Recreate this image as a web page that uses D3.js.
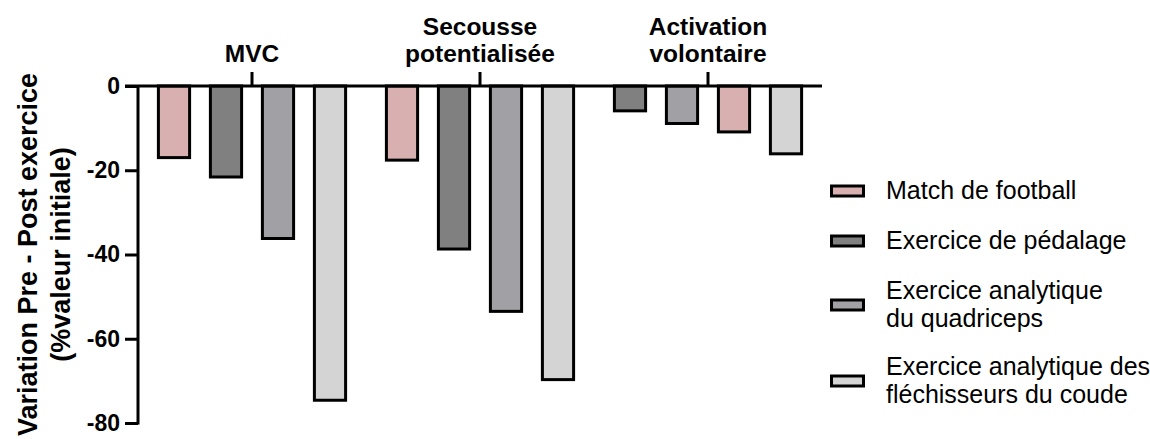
<!DOCTYPE html>
<html>
<head>
<meta charset="utf-8">
<script src="https://cdn.jsdelivr.net/npm/d3@7"></script>
<style>
  body { margin: 0; background: #fff; }
  svg { font-family: Arial, "Liberation Sans", sans-serif; }
</style>
</head>
<body>
<div id="chart"></div>
<script>
// data
let groups = [["MVC"], ["Secousse", "potentialisée"], ["Activation", "volontaire"]];
let series = ["Match de football", "Exercice de pédalage", "Exercice analytique du quadriceps", "Exercice analytique des fléchisseurs du coude"];
let legendLines = [["Match de football"], ["Exercice de pédalage"], ["Exercice analytique", "du quadriceps"], ["Exercice analytique des", "fléchisseurs du coude"]];
let colors = ["#d8b0b0", "#808080", "#a1a0a5", "#d4d4d4"];
let football = [-17.0, -17.6, -10.9];
let pedalage = [-21.6, -38.7, -5.9];
let quadriceps = [-36.2, -53.5, -8.9];
let flechisseurs = [-74.6, -69.7, -16.1];
let yTicks = [0, -20, -40, -60, -80];

let values = [football, pedalage, quadriceps, flechisseurs];

let width = 1150, height = 439;
let svg = d3.select("#chart").append("svg")
    .attr("width", width)
    .attr("height", height);

// scales
let x = d3.scaleBand().domain(d3.range(groups.length)).range([138, 822]).padding(0);
let y = d3.scaleLinear().domain([0, -80]).range([86, 423]);

// bars sorted within each group (largest drop last)
let bars = [];
groups.forEach(function (g, gi) {
    let row = series.map((s, si) => ({group: gi, series: si, value: values[si][gi]}));
    row.sort((a, b) => b.value - a.value);
    row.forEach((d, k) => { d.slot = k; bars.push(d); });
});
let inner = d3.scaleBand().domain(d3.range(4)).range([-104, 104]).paddingInner(0.4).paddingOuter(0.2);

svg.append("g").selectAll("rect")
    .data(bars)
    .join("rect")
    .attr("x", d => x(d.group) + x.bandwidth() / 2 + inner(d.slot))
    .attr("width", inner.bandwidth())
    .attr("y", y(0))
    .attr("height", d => y(d.value) - y(0))
    .attr("fill", d => colors[d.series])
    .attr("stroke", "#000")
    .attr("stroke-width", 3);

// y axis
let yAxis = svg.append("g")
    .attr("transform", "translate(138,0)")
    .call(d3.axisLeft(y).tickValues(yTicks).tickSize(13).tickPadding(5).tickSizeOuter(0)
        .tickFormat(d => String(d)))
    .attr("font-size", 23)
    .attr("font-weight", "bold")
    .attr("font-family", "Arial, 'Liberation Sans', sans-serif");
yAxis.select(".domain").attr("stroke-width", 3).attr("d", "M0," + y(0) + "V" + (y(-80) + 1.5));
yAxis.selectAll(".tick line").attr("stroke-width", 3);
yAxis.selectAll(".tick text").attr("fill", "#000");

// top axis at zero with group ticks
let xAxis = svg.append("g")
    .attr("transform", "translate(0," + y(0) + ")")
    .call(d3.axisTop(x).tickSize(14).tickSizeOuter(0).tickFormat(""));
xAxis.select(".domain").attr("stroke-width", 3).attr("d", "M125,0H822");
xAxis.selectAll(".tick line").attr("stroke-width", 3);

// group labels
groups.forEach(function (lines, gi) {
    let t = svg.append("text")
        .attr("text-anchor", "middle")
        .attr("font-size", 24.5)
        .attr("font-weight", "bold")
        .attr("fill", "#000");
    lines.forEach(function (l, li) {
        t.append("tspan")
            .attr("x", x(gi) + x.bandwidth() / 2)
            .attr("y", 62 - (lines.length - 1 - li) * 27)
            .text(l);
    });
});

// y title
let yTitle = svg.append("text")
    .attr("transform", "translate(0," + y(-40) + ") rotate(-90)")
    .attr("text-anchor", "middle")
    .attr("font-size", 27)
    .attr("font-weight", "bold")
    .attr("fill", "#000");
yTitle.append("tspan").attr("x", 0).attr("y", 37).text("Variation Pre - Post exercice");
yTitle.append("tspan").attr("x", 0).attr("y", 70).text("(%valeur initiale)");

// legend
let legendY = [191, 241, 305, 381];
let legend = svg.append("g");
legendLines.forEach(function (lines, i) {
    legend.append("rect")
        .attr("x", 831.5).attr("y", legendY[i] - 5)
        .attr("width", 32).attr("height", 10)
        .attr("fill", colors[i])
        .attr("stroke", "#000").attr("stroke-width", 3);
    let t = legend.append("text")
        .attr("font-size", 25)
        .attr("fill", "#000");
    let top = legendY[i] + 8 - (lines.length - 1) * 27.5 / 2;
    lines.forEach(function (l, li) {
        t.append("tspan").attr("x", 886).attr("y", top + li * 27.5).text(l);
    });
});
</script>
</body>
</html>
